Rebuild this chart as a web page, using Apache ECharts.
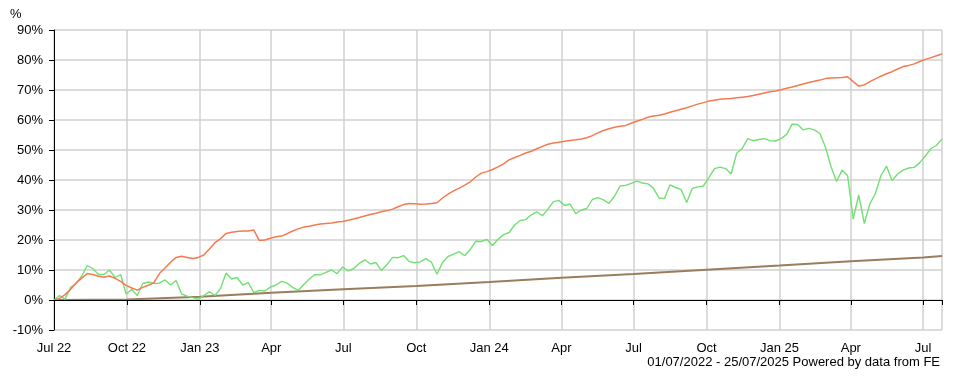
<!DOCTYPE html>
<html>
<head>
<meta charset="utf-8">
<script src="https://cdn.jsdelivr.net/npm/echarts@6/dist/echarts.min.js"></script>
<style>
  html, body { margin: 0; padding: 0; background: #fff; }
  #chart { width: 971px; height: 383px; }
</style>
</head>
<body>
<div id="chart"></div>
<script>
// period shown on the chart
var startDate = '2022-07-01';
var endDate = '2025-07-25';

// quarter ticks + the end date (last one has no label)
var tickDates = ['2022-07-01', '2022-10-01', '2023-01-01', '2023-04-01', '2023-07-01', '2023-10-01',
  '2024-01-01', '2024-04-01', '2024-07-01', '2024-10-01', '2025-01-01', '2025-04-01', '2025-07-01', '2025-07-25'];
var tickLabels = ['Jul 22', 'Oct 22', 'Jan 23', 'Apr', 'Jul', 'Oct', 'Jan 24', 'Apr', 'Jul', 'Oct', 'Jan 25', 'Apr', 'Jul', ''];

// weekly values, % growth
var fundValues = [
  0, 0.5, 1.8, 3.6, 5.7, 7.3, 8.8, 8.5, 7.9, 7.6,
  8, 7.2, 6.2, 4.9, 4, 3.3, 4.2, 4.9, 5.8, 8.8,
  10.7, 12.6, 14.2, 14.6, 14.2, 13.8, 14.2, 15, 17, 19.1,
  20.4, 22.2, 22.6, 22.8, 23, 23, 23.3, 19.8, 20, 20.6,
  21.1, 21.3, 22.1, 23, 23.7, 24.3, 24.6, 25, 25.3, 25.5,
  25.7, 26, 26.2, 26.6, 27, 27.5, 28, 28.5, 28.9, 29.4,
  29.8, 30.3, 31.1, 31.8, 32.2, 32.1, 31.9, 32, 32.2, 32.4,
  34, 35.3, 36.4, 37.3, 38.3, 39.4, 41, 42.3, 42.8, 43.5,
  44.4, 45.4, 46.7, 47.5, 48.2, 49, 49.6, 50.4, 51.2, 51.9,
  52.3, 52.6, 52.9, 53.2, 53.4, 53.7, 54.1, 54.8, 55.7, 56.5,
  57.1, 57.6, 57.9, 58.2, 58.9, 59.6, 60.2, 60.9, 61.3, 61.6,
  62, 62.6, 63.1, 63.6, 64.1, 64.7, 65.3, 65.8, 66.3, 66.6,
  66.9, 67.1, 67.2, 67.4, 67.6, 67.8, 68.2, 68.6, 69, 69.4,
  69.7, 70.1, 70.6, 71, 71.5, 72, 72.5, 72.9, 73.3, 73.8,
  74, 74.1, 74.2, 74.4, 72.8, 71.3, 71.7, 72.8, 73.7, 74.6,
  75.4, 76.1, 77, 77.8, 78.2, 78.7, 79.5, 80.2, 80.8, 81.4,
  82
];
var sectorValues = [
  0, 1.5, 0.3, 4.2, 5.5, 8, 11.5, 10.5, 8.5, 8.5,
  10, 7.5, 8.5, 2, 3.5, 1.5, 5.5, 6, 5.5, 5.6,
  6.7, 5, 6.5, 2, 1.3, 0.8, 0.2, 1.5, 2.8, 1.5,
  3.8, 9, 7, 7.5, 5, 5.8, 2.5, 3.2, 3, 4.3,
  5, 6.2, 5.6, 4.2, 3.2, 5.2, 7, 8.5, 8.4, 9.2,
  10, 8.8, 11, 9.7, 10.5, 12.2, 13.4, 12, 12.5, 9.8,
  11.8, 14.2, 14.1, 14.8, 12.8, 12.4, 12.7, 13.8, 12.6, 8.6,
  12.5, 14.5, 15.3, 16.1, 14.8, 16.8, 19.6, 19.5, 20.2, 18.2,
  20.2, 21.8, 22.5, 25, 26.5, 26.8, 28.4, 29.4, 28.1, 30.3,
  32.8, 33.2, 31.5, 32, 28.8, 30, 30.5, 33.5, 34.1, 33.4,
  32.2, 34.6, 38, 38.2, 38.9, 39.6, 39, 38.7, 37.3, 34,
  33.8, 38.4, 37.5, 36.8, 32.5, 37.2, 37.7, 38, 40.8, 43.8,
  44.3, 43.8, 42, 48.9, 50.5, 53.8, 53.1, 53.5, 53.8, 53.1,
  53, 53.8, 55.2, 58.6, 58.5, 56.7, 57.2, 56.7, 55.5, 51,
  44.5, 39.5, 43.3, 41.4, 27, 35, 25.5, 32, 35.5, 41.5,
  44.6, 39.8, 42, 43.3, 44, 44.2, 45.8, 48, 50.5, 51.5,
  53.7
];
// benchmark, one value per tick date
var benchValues = [0, 0.2, 1.1, 2.4, 3.6, 4.7, 6.0, 7.4, 8.7, 10.1, 11.5, 12.9, 14.2, 14.7];

var yTicks = [-10, 0, 10, 20, 30, 40, 50, 60, 70, 80, 90];

var DAY = 86400000;
var startTime = Date.parse(startDate);
var endTime = Date.parse(endDate);
var tickTimes = tickDates.map(function (d) { return Date.parse(d); });
var weekTimes = fundValues.map(function (v, i) { return startTime + i * 7 * DAY; });

function pairs(times, vals) {
  return vals.map(function (v, i) { return [times[i], v]; });
}

var font = "'Liberation Sans', Arial, sans-serif";
var chart = echarts.init(document.getElementById('chart'));
var option = {
  animation: false,
  backgroundColor: '#fff',
  title: {
    text: '%', left: 5, top: 3,
    textStyle: { fontSize: 13, fontWeight: 'normal', color: '#000', fontFamily: font }
  },
  grid: { left: 54, right: 29, top: 30, bottom: 53 },
  xAxis: {
    type: 'value',
    min: startTime,
    max: endTime,
    axisLine: { show: true, lineStyle: { color: '#d0d0d0', width: 1 } },
    axisTick: { show: true, customValues: tickTimes, length: 5, lineStyle: { color: '#000' } },
    axisLabel: {
      customValues: tickTimes,
      color: '#000', fontSize: 13, fontFamily: font, margin: 12,
      formatter: function (value) {
        var i = tickTimes.indexOf(value);
        return i >= 0 ? tickLabels[i] : '';
      }
    },
    splitLine: { show: true, lineStyle: { color: '#d0d0d0', width: 1.5 } }
  },
  yAxis: {
    type: 'value',
    min: yTicks[0],
    max: yTicks[yTicks.length - 1],
    interval: 10,
    axisLine: { show: true, lineStyle: { color: '#000' } },
    axisTick: { show: true, length: 5, lineStyle: { color: '#000' } },
    axisLabel: { color: '#000', fontSize: 13, fontFamily: font, margin: 11, formatter: '{value}%' },
    splitLine: { show: true, lineStyle: { color: '#d0d0d0', width: 1.5 } }
  },
  graphic: [{
    type: 'text', right: 31, top: 356,
    style: { text: '01/07/2022 - 25/07/2025 Powered by data from FE', fontSize: 13, fontFamily: font, fill: '#000' }
  }],
  series: [
    {
      name: 'Benchmark', type: 'line', showSymbol: false,
      data: pairs(tickTimes, benchValues),
      lineStyle: { color: '#9a7d5c', width: 2 },
      markLine: {
        silent: true, symbol: 'none', label: { show: false },
        lineStyle: { color: '#000', width: 1.2, type: 'solid' },
        data: [{ yAxis: 0 }]
      }
    },
    {
      name: 'Sector', type: 'line', showSymbol: false,
      data: pairs(weekTimes, sectorValues),
      lineStyle: { color: '#72e072', width: 1.4 }
    },
    {
      name: 'Fund', type: 'line', showSymbol: false,
      data: pairs(weekTimes, fundValues),
      lineStyle: { color: '#f47a50', width: 1.5 }
    }
  ]
};
chart.setOption(option);
</script>
</body>
</html>
